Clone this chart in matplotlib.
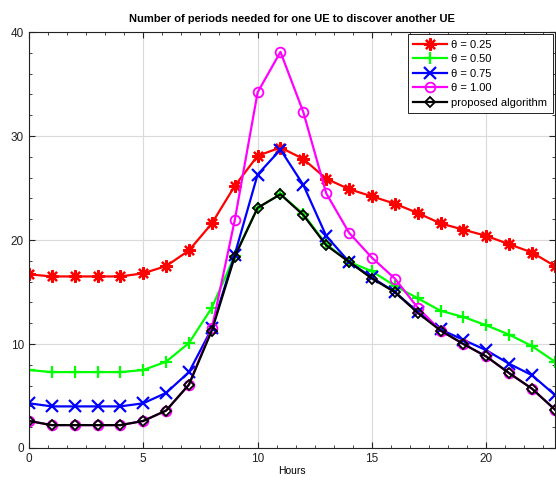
import numpy as np
import matplotlib
matplotlib.use("Agg")
import matplotlib.pyplot as plt
from matplotlib.ticker import AutoMinorLocator

plt.rcParams['font.family'] = ['Liberation Sans', 'DejaVu Sans']

hours = list(range(24))

theta_025 = [16.7, 16.5, 16.5, 16.5, 16.5, 16.8, 17.5, 19.0, 21.6, 25.2, 28.1, 28.9,
             27.8, 25.9, 24.9, 24.2, 23.5, 22.6, 21.6, 21.0, 20.4, 19.6, 18.8, 17.5]
theta_050 = [7.5, 7.3, 7.3, 7.3, 7.3, 7.5, 8.3, 10.1, 13.5, 18.5, 23.1, 24.4,
             22.5, 19.6, 17.9, 17.0, 15.6, 14.4, 13.2, 12.6, 11.8, 10.9, 9.8, 8.3]
theta_075 = [4.3, 4.0, 4.0, 4.0, 4.0, 4.3, 5.3, 7.3, 11.5, 18.6, 26.3, 28.7,
             25.3, 20.4, 17.9, 16.4, 15.0, 13.1, 11.4, 10.4, 9.4, 8.1, 7.0, 5.1]
theta_100 = [2.6, 2.2, 2.2, 2.2, 2.2, 2.6, 3.6, 6.1, 11.5, 21.9, 34.2, 38.1,
             32.3, 24.5, 20.7, 18.3, 16.3, 13.5, 11.3, 10.0, 8.8, 7.2, 5.7, 3.7]
proposed = [2.6, 2.2, 2.2, 2.2, 2.2, 2.6, 3.6, 6.1, 11.3, 18.4, 23.1, 24.4,
            22.4, 19.5, 17.9, 16.3, 15.0, 13.0, 11.3, 10.0, 8.8, 7.2, 5.7, 3.7]

fig = plt.figure(figsize=(5.56, 4.83), dpi=100)
ax = fig.add_axes([0.052, 0.0725, 0.946, 0.861])

ax.plot(hours, theta_025, color='red', marker=(8, 2, 0), markersize=9, lw=1.6,
        mew=1.6, label='θ = 0.25')
ax.plot(hours, theta_050, color='#00ff00', marker='+', markersize=9, lw=1.6,
        mew=1.6, label='θ = 0.50')
ax.plot(hours, theta_075, color='blue', marker='x', markersize=8, lw=1.6,
        mew=1.6, label='θ = 0.75')
ax.plot(hours, theta_100, color='magenta', marker='o', markersize=7, lw=1.6,
        mew=1.3, mfc='none', label='θ = 1.00')
ax.plot(hours, proposed, color='black', marker='D', markersize=5, lw=1.6,
        mew=1.3, mfc='none', label='proposed algorithm')

ax.set_xlim(0, 23)
ax.set_ylim(0, 40)
ax.set_xticks([0, 5, 10, 15, 20])
ax.set_yticks([0, 10, 20, 30, 40])
ax.xaxis.set_minor_locator(AutoMinorLocator(6))
ax.yaxis.set_minor_locator(AutoMinorLocator(5))
ax.tick_params(which='both', direction='in', top=True, right=True,
               labelsize=8.5, colors='#222222')
ax.tick_params(which='major', length=4)
ax.tick_params(which='minor', length=2)
ax.grid(True, which='major', color='#dadada', lw=0.8)
ax.set_axisbelow(True)
for s in ax.spines.values():
    s.set_color('#222222')

ax.set_xlabel('Hours', fontsize=7.5, labelpad=1)
ax.set_title('Number of periods needed for one UE to discover another UE',
             fontsize=8, fontweight='bold', pad=7)

leg = ax.legend(loc='upper right', fontsize=8, handlelength=3.0,
                fancybox=False, framealpha=1, borderaxespad=0.2,
                labelspacing=0.4, handletextpad=0.4, borderpad=0.5)
leg.get_frame().set_edgecolor('black')
leg.get_frame().set_linewidth(0.6)

plt.savefig('out.png', dpi=100)
